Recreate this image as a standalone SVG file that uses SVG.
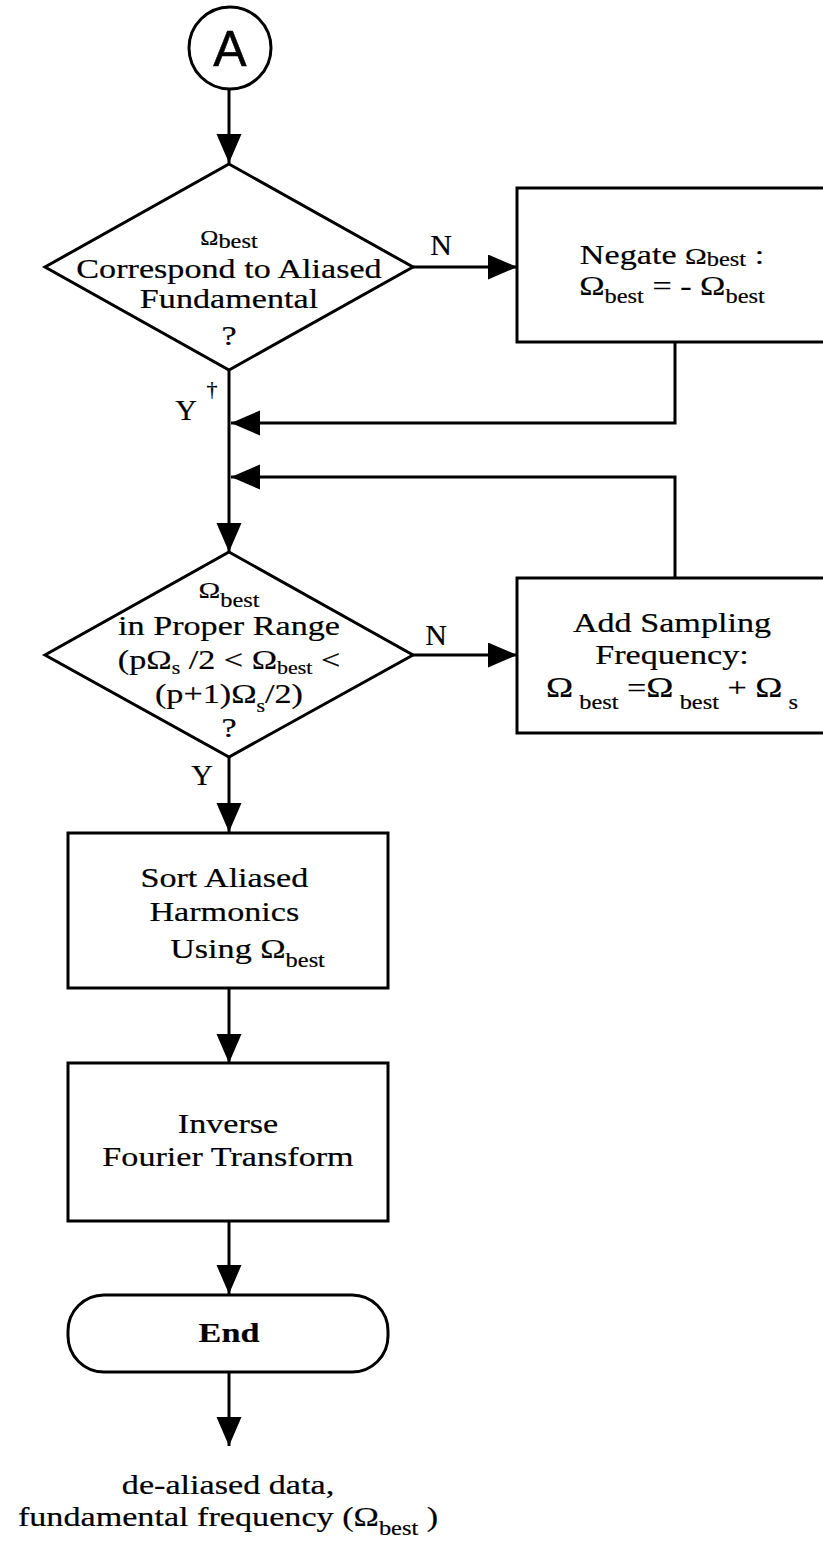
<svg xmlns="http://www.w3.org/2000/svg" width="823" height="1543" viewBox="0 0 823 1543">
<style>
.shape{fill:#fff;stroke:#000;stroke-width:3}
.conn{fill:none;stroke:#000;stroke-width:3}
text{font-family:"Liberation Serif","Times New Roman",serif;fill:#000;stroke:#000;stroke-width:0.2;font-size:28px;text-anchor:middle}
.lbl{font-size:30px}
.sub{font-size:20px}
.a{font-family:"Liberation Sans",Arial,sans-serif;font-size:50px;stroke-width:0.5}
</style>
<defs>
<marker id="arr" markerUnits="userSpaceOnUse" markerWidth="30" markerHeight="26" refX="29" refY="12.5" orient="auto">
<path d="M0,0 L29,12.5 L0,25 z" fill="#000"/>
</marker>
</defs>
<rect width="823" height="1543" fill="#fff"/>

<g id="connectors">
<path class="conn" d="M229,89 V163" marker-end="url(#arr)"/>
<path class="conn" d="M413,267 H517" marker-end="url(#arr)"/>
<path class="conn" d="M675,342 V423 H231" marker-end="url(#arr)"/>
<path class="conn" d="M675,578 V477 H231" marker-end="url(#arr)"/>
<path class="conn" d="M229,370 V552" marker-end="url(#arr)"/>
<path class="conn" d="M413,655 H517" marker-end="url(#arr)"/>
<path class="conn" d="M229,757 V832" marker-end="url(#arr)"/>
<path class="conn" d="M229,988 V1063" marker-end="url(#arr)"/>
<path class="conn" d="M229,1221 V1294" marker-end="url(#arr)"/>
<path class="conn" d="M229,1372 V1446" marker-end="url(#arr)"/>
<text class="lbl" x="441" y="255">N</text>
<text class="lbl" x="436" y="645">N</text>
<text class="lbl" x="186" y="420">Y</text>
<text style="font-size:22px" x="212" y="396">†</text>
<text class="lbl" x="202" y="785">Y</text>
</g>

<g id="start">
<circle class="shape" cx="230" cy="48" r="41"/>
<text class="a" x="230" y="66">A</text>
</g>

<g id="decision1">
<polygon class="shape" points="229,164 413,267 229,370 45,267"/>
<g transform="translate(229,0) scale(1.22,1)">
<text x="0" y="245"><tspan style="font-size:20px">Ω</tspan><tspan class="sub" dy="3">best</tspan></text>
<text x="0" y="278">Correspond to Aliased</text>
<text x="0" y="308">Fundamental</text>
<text x="0" y="345">?</text>
</g>
</g>

<g id="negate">
<rect class="shape" x="517" y="188" width="320" height="154"/>
<g transform="translate(672,0) scale(1.22,1)">
<text x="0" y="264">Negate <tspan style="font-size:24px">Ω</tspan><tspan class="sub" dy="2">best</tspan><tspan dy="-2"> :</tspan></text>
<text x="0" y="295">Ω<tspan class="sub" dy="8">best</tspan><tspan dy="-8"> =  - Ω</tspan><tspan class="sub" dy="8">best</tspan></text>
</g>
</g>

<g id="decision2">
<polygon class="shape" points="229,552 413,655 229,757 45,655"/>
<g transform="translate(229,0) scale(1.22,1)">
<text x="0" y="598"><tspan style="font-size:24px">Ω</tspan><tspan class="sub" dy="9">best</tspan></text>
<text x="0" y="635">in Proper Range</text>
<text x="0" y="669">(pΩ<tspan style="font-size:18px" dy="5">s</tspan><tspan dy="-5">  /2 &lt; Ω</tspan><tspan style="font-size:18px" dy="5">best</tspan><tspan dy="-5">  &lt;</tspan></text>
<text x="0" y="703">(p+1)Ω<tspan style="font-size:18px" dy="9">s</tspan><tspan dy="-9">/2)</tspan></text>
<text x="0" y="737">?</text>
</g>
</g>

<g id="addsampling">
<rect class="shape" x="517" y="578" width="320" height="155"/>
<g transform="translate(672,0) scale(1.22,1)">
<text x="0" y="632">Add Sampling</text>
<text x="0" y="664">Frequency:</text>
<text x="0" y="697"><tspan style="font-size:30px">Ω</tspan><tspan class="sub" dy="12"> best</tspan><tspan dy="-12"> =</tspan><tspan style="font-size:30px">Ω</tspan><tspan class="sub" dy="12"> best</tspan><tspan dy="-12"> + </tspan><tspan style="font-size:30px">Ω</tspan><tspan class="sub" dy="12"> s</tspan></text>
</g>
</g>

<g id="sort">
<rect class="shape" x="68" y="833" width="320" height="155"/>
<g transform="translate(228,0) scale(1.22,1)">
<text x="-3" y="887">Sort Aliased</text>
<text x="-3" y="921">Harmonics</text>
<text x="16" y="958">Using Ω<tspan class="sub" dy="9">best</tspan></text>
</g>
</g>

<g id="inverse">
<rect class="shape" x="68" y="1063" width="320" height="158"/>
<g transform="translate(228,0) scale(1.22,1)">
<text x="0" y="1133">Inverse</text>
<text x="0" y="1166">Fourier Transform</text>
</g>
</g>

<g id="end">
<rect class="shape" x="68" y="1295" width="320" height="77" rx="36" ry="36"/>
<g transform="translate(229,0) scale(1.22,1)">
<text x="0" y="1342" style="font-weight:bold">End</text>
</g>
</g>

<g id="output">
<g transform="translate(228,0) scale(1.22,1)">
<text x="0" y="1494">de-aliased data,</text>
<text x="0" y="1526">fundamental frequency (Ω<tspan class="sub" dy="9">best</tspan><tspan dy="-9"> )</tspan></text>
</g>
</g>
</svg>
